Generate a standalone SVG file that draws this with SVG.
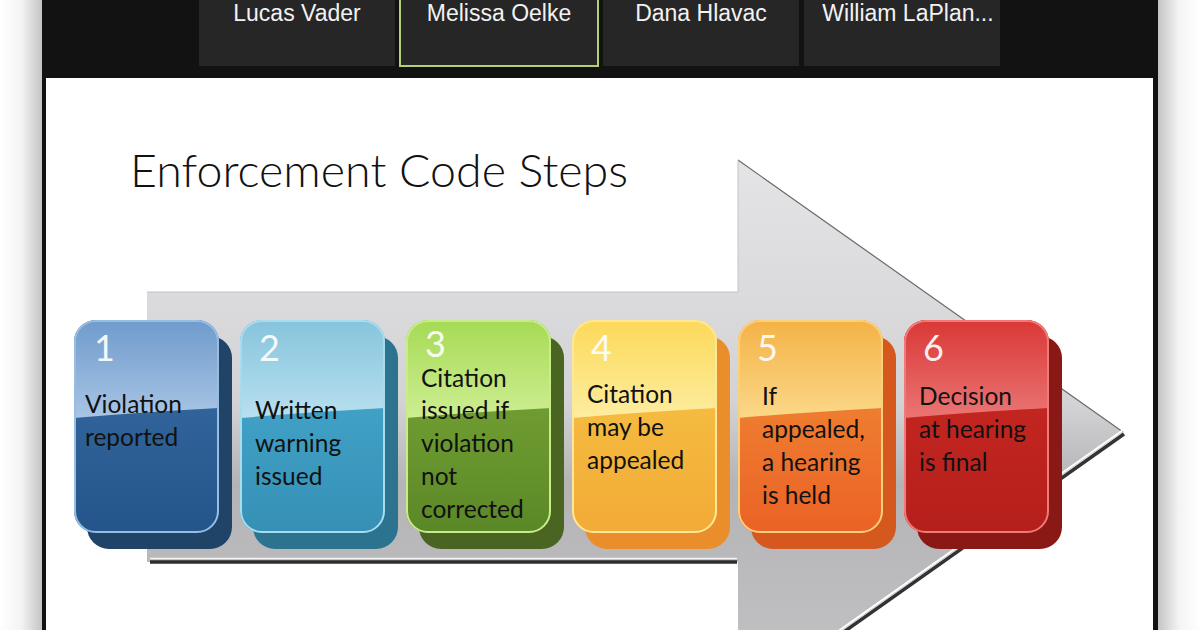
<svg xmlns="http://www.w3.org/2000/svg" width="1200" height="630" viewBox="0 0 1200 630">
<defs>
<style>
.name{font-family:"Liberation Sans",Arial,sans-serif;font-size:23px;fill:#f2f2f2;text-anchor:middle}
.tile{fill:#262626}
.num{font-family:Lato,"Open Sans",sans-serif;font-size:36px;fill:#ffffff;fill-opacity:0.92}
.lbl{font-family:Lato,"Open Sans",sans-serif;font-size:24.5px;fill:#111111}
.title{font-family:Lato,"Open Sans",sans-serif;font-weight:300;font-size:46px;fill:#111111}
</style>
<linearGradient id="shL" x1="0" y1="0" x2="1" y2="0"><stop offset="0" stop-color="#ffffff"/><stop offset="0.5" stop-color="#f4f4f4"/><stop offset="1" stop-color="#c4c4c4"/></linearGradient>
<linearGradient id="shR" x1="1" y1="0" x2="0" y2="0"><stop offset="0" stop-color="#ffffff"/><stop offset="0.5" stop-color="#f4f4f4"/><stop offset="1" stop-color="#c4c4c4"/></linearGradient>
<linearGradient id="arrowG" x1="0" y1="160" x2="0" y2="700" gradientUnits="userSpaceOnUse"><stop offset="0" stop-color="#e4e4e6"/><stop offset="0.45" stop-color="#d3d3d6"/><stop offset="0.6" stop-color="#b4b4b7"/><stop offset="1" stop-color="#c4c4c6"/></linearGradient>
<clipPath id="cf"><rect x="0" y="0" width="145" height="213" rx="22"/></clipPath>
<linearGradient id="g1a" x1="0" y1="0" x2="0" y2="1"><stop offset="0" stop-color="#6f9bcb"/><stop offset="1" stop-color="#a8c5e5"/></linearGradient>
<linearGradient id="g1b" x1="0" y1="0" x2="0" y2="1"><stop offset="0" stop-color="#3a6ea6"/><stop offset="1" stop-color="#24558a"/></linearGradient>
<linearGradient id="g2a" x1="0" y1="0" x2="0" y2="1"><stop offset="0" stop-color="#86c4dc"/><stop offset="1" stop-color="#b8e0ef"/></linearGradient>
<linearGradient id="g2b" x1="0" y1="0" x2="0" y2="1"><stop offset="0" stop-color="#48acd0"/><stop offset="1" stop-color="#3690b6"/></linearGradient>
<linearGradient id="g3a" x1="0" y1="0" x2="0" y2="1"><stop offset="0" stop-color="#a6da55"/><stop offset="1" stop-color="#cdee92"/></linearGradient>
<linearGradient id="g3b" x1="0" y1="0" x2="0" y2="1"><stop offset="0" stop-color="#7dab38"/><stop offset="1" stop-color="#5b8827"/></linearGradient>
<linearGradient id="g4a" x1="0" y1="0" x2="0" y2="1"><stop offset="0" stop-color="#fcd95a"/><stop offset="1" stop-color="#fdeda0"/></linearGradient>
<linearGradient id="g4b" x1="0" y1="0" x2="0" y2="1"><stop offset="0" stop-color="#f7c646"/><stop offset="1" stop-color="#f2ab37"/></linearGradient>
<linearGradient id="g5a" x1="0" y1="0" x2="0" y2="1"><stop offset="0" stop-color="#f4b246"/><stop offset="1" stop-color="#fbd888"/></linearGradient>
<linearGradient id="g5b" x1="0" y1="0" x2="0" y2="1"><stop offset="0" stop-color="#f19036"/><stop offset="1" stop-color="#eb6226"/></linearGradient>
<linearGradient id="g6a" x1="0" y1="0" x2="0" y2="1"><stop offset="0" stop-color="#d93836"/><stop offset="1" stop-color="#ea7574"/></linearGradient>
<linearGradient id="g6b" x1="0" y1="0" x2="0" y2="1"><stop offset="0" stop-color="#cc2a24"/><stop offset="1" stop-color="#b51f1b"/></linearGradient>
</defs>

<!-- outside window -->
<rect x="0" y="0" width="1200" height="630" fill="#ffffff"/>
<rect x="0" y="0" width="42" height="630" fill="url(#shL)"/>
<rect x="1158" y="0" width="42" height="630" fill="url(#shR)"/>
<!-- window -->
<rect x="42" y="0" width="1116" height="630" fill="#121212"/>
<rect x="46" y="78" width="1107" height="552" fill="#ffffff"/>

<!-- participant tiles -->
<g id="tile-lucas"><rect class="tile" x="199" y="0" width="196" height="66"/><text class="name" x="297" y="21">Lucas Vader</text></g>
<g id="tile-melissa"><rect class="tile" x="400" y="-2" width="198" height="68" stroke="#b5cf73" stroke-width="2"/><text class="name" x="499" y="21">Melissa Oelke</text></g>
<g id="tile-dana"><rect class="tile" x="603" y="0" width="196" height="66"/><text class="name" x="701" y="21">Dana Hlavac</text></g>
<g id="tile-william"><rect class="tile" x="804" y="0" width="196" height="66"/><text class="name" x="908" y="21">William LaPlan...</text></g>

<!-- title -->
<text class="title" x="130" y="187" textLength="498" lengthAdjust="spacingAndGlyphs">Enforcement Code Steps</text>

<!-- big arrow -->
<g id="connectors">
<path d="M147 292 H738 V160 L1123 432 L738 704 V562 H147 Z" fill="url(#arrowG)"/>
<path d="M738 160 L1123 432" stroke="#6a6a6a" stroke-width="1.2" fill="none"/>
<path d="M147 292 H738 V160" stroke="#c4c4c6" stroke-width="1" fill="none"/>
<path d="M1123 432 L738 704" stroke="#ffffff" stroke-width="2" fill="none" transform="translate(0,-2)"/>
<path d="M1124 434 L739 706" stroke="#333333" stroke-width="3.5" fill="none"/>
<path d="M150 558.5 H737" stroke="#f4f4f4" stroke-width="1.5"/>
<path d="M150 562 H737" stroke="#2e2e2e" stroke-width="3.5"/>
</g>

<!-- step boxes -->
<g id="step1" transform="translate(74,320)">
<rect x="13" y="16" width="145" height="213" rx="22" fill="#1f4468"/>
<g clip-path="url(#cf)"><rect width="145" height="213" fill="url(#g1b)"/><path d="M0 0 H145 V88 Q70 92 0 98 Z" fill="url(#g1a)"/></g>
<rect x="1" y="1" width="143" height="211" rx="21" fill="none" stroke="#97bde3" stroke-width="2"/>
<text class="num" x="20" y="41">1</text>
<text class="lbl" x="11" y="93">Violation</text>
<text class="lbl" x="11" y="126">reported</text>
</g>
<g id="step2" transform="translate(240,320)">
<rect x="13" y="16" width="145" height="213" rx="22" fill="#2c7390"/>
<g clip-path="url(#cf)"><rect width="145" height="213" fill="url(#g2b)"/><path d="M0 0 H145 V88 Q70 92 0 98 Z" fill="url(#g2a)"/></g>
<rect x="1" y="1" width="143" height="211" rx="21" fill="none" stroke="#a8dbee" stroke-width="2"/>
<text class="num" x="19" y="41">2</text>
<text class="lbl" x="15" y="99">Written</text>
<text class="lbl" x="15" y="132">warning</text>
<text class="lbl" x="15" y="165">issued</text>
</g>
<g id="step3" transform="translate(406,320)">
<rect x="13" y="16" width="145" height="213" rx="22" fill="#4a6522"/>
<g clip-path="url(#cf)"><rect width="145" height="213" fill="url(#g3b)"/><path d="M0 0 H145 V88 Q70 92 0 98 Z" fill="url(#g3a)"/></g>
<rect x="1" y="1" width="143" height="211" rx="21" fill="none" stroke="#c8ec8a" stroke-width="2"/>
<text class="num" x="19" y="37">3</text>
<text class="lbl" x="15" y="67">Citation</text>
<text class="lbl" x="15" y="99">issued if</text>
<text class="lbl" x="15" y="132">violation</text>
<text class="lbl" x="15" y="165">not</text>
<text class="lbl" x="15" y="198">corrected</text>
</g>
<g id="step4" transform="translate(572,320)">
<rect x="13" y="16" width="145" height="213" rx="22" fill="#ea8e2c"/>
<g clip-path="url(#cf)"><rect width="145" height="213" fill="url(#g4b)"/><path d="M0 0 H145 V88 Q70 92 0 98 Z" fill="url(#g4a)"/></g>
<rect x="1" y="1" width="143" height="211" rx="21" fill="none" stroke="#fde89a" stroke-width="2"/>
<text class="num" x="19" y="41">4</text>
<text class="lbl" x="15" y="83">Citation</text>
<text class="lbl" x="15" y="116">may be</text>
<text class="lbl" x="15" y="149">appealed</text>
</g>
<g id="step5" transform="translate(738,320)">
<rect x="13" y="16" width="145" height="213" rx="22" fill="#d5581e"/>
<g clip-path="url(#cf)"><rect width="145" height="213" fill="url(#g5b)"/><path d="M0 0 H145 V88 Q70 92 0 98 Z" fill="url(#g5a)"/></g>
<rect x="1" y="1" width="143" height="211" rx="21" fill="none" stroke="#fbd07a" stroke-width="2"/>
<text class="num" x="19" y="41">5</text>
<text class="lbl" x="24" y="85">If</text>
<text class="lbl" x="24" y="118">appealed,</text>
<text class="lbl" x="24" y="151">a hearing</text>
<text class="lbl" x="24" y="184">is held</text>
</g>
<g id="step6" transform="translate(904,320)">
<rect x="13" y="16" width="145" height="213" rx="22" fill="#8a1815"/>
<g clip-path="url(#cf)"><rect width="145" height="213" fill="url(#g6b)"/><path d="M0 0 H145 V88 Q70 92 0 98 Z" fill="url(#g6a)"/></g>
<rect x="1" y="1" width="143" height="211" rx="21" fill="none" stroke="#ef7a78" stroke-width="2"/>
<text class="num" x="19" y="41">6</text>
<text class="lbl" x="15" y="85">Decision</text>
<text class="lbl" x="15" y="118">at hearing</text>
<text class="lbl" x="15" y="151">is final</text>
</g>
</svg>
